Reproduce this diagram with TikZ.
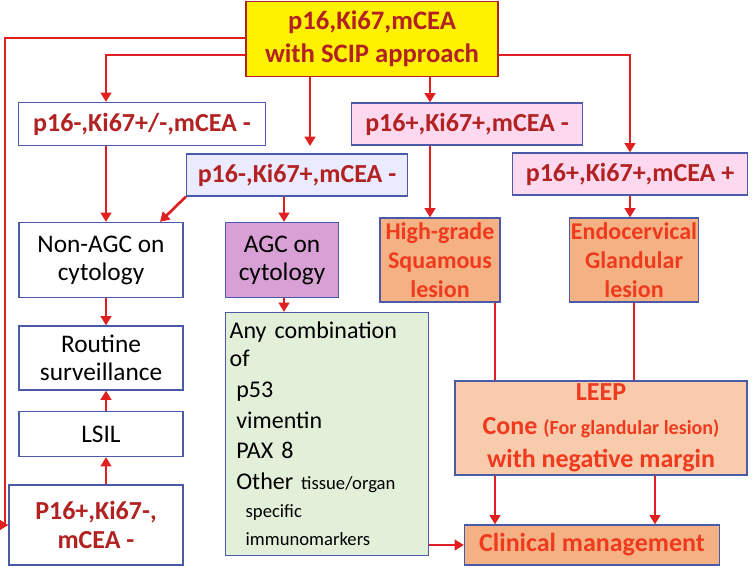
\documentclass[tikz,border=0pt]{standalone}
\usepackage{fontspec}
\setmainfont{Carlito}
\usetikzlibrary{arrows.meta,positioning}
\definecolor{dred}{HTML}{B22222}
\definecolor{ared}{HTML}{E02020}
\definecolor{bord}{HTML}{4A5AA8}
\definecolor{ored}{HTML}{F03A1E}
\definecolor{agcfill}{HTML}{D8A0D4}
\definecolor{lesfill}{HTML}{F4B183}
\definecolor{leepfill}{HTML}{F8CBAD}
\definecolor{greenfill}{HTML}{E2F0D9}
\begin{document}
\begin{tikzpicture}[x=0.75pt,y=-0.75pt,
    w/.style={minimum width=#1*0.75pt},
    h/.style={minimum height=#1*0.75pt},
    box/.style={rectangle, draw=bord, line width=0.9pt, fill=white, align=center, inner sep=1pt, font=\fontsize{19}{21}\selectfont},
    key/.style={box, text=dred, font=\fontsize{19.5}{22}\selectfont\bfseries},
    lesion/.style={box, fill=lesfill, text=ored, font=\fontsize{18}{22}\selectfont\bfseries},
    arrow/.style={draw=ared, line width=2pt, -{Triangle[length=7pt,width=8pt]}},
    line/.style={draw=ared, line width=2pt}
]
\useasboundingbox (0,0) rectangle (756,575);
% Nodes
\node[key, fill=yellow, draw=dred, w=252, h=75, font=\fontsize{20}{25}\selectfont\bfseries] (scip) at (372,39) {p16,Ki67,mCEA\\with SCIP approach};
\node[key, w=247, h=43] (neg) at (142,124) {p16-,Ki67+/-,mCEA -};
\node[key, fill=blue!8, w=221, h=42] (kpos) at (297,175) {p16-,Ki67+,mCEA -};
\node[key, fill=magenta!15, w=231, h=42] (ppos) at (467,124) {p16+,Ki67+,mCEA -};
\node[key, fill=magenta!15, w=235, h=42] (allpos) at (630,174) {p16+,Ki67+,mCEA +};
\node[box, w=164, h=75] (nonagc) at (101,260) {Non-AGC on\\cytology};
\node[box, fill=agcfill, w=113, h=75] (agc) at (282,260) {AGC on\\cytology};
\node[lesion, w=120, h=84] (hsil) at (440,260) {High-grade\\Squamous\\lesion};
\node[lesion, w=125, h=84] (glands) at (634,260) {Endocervical\\Glandular\\lesion};
\node[box, w=164, h=64] (routine) at (101,358) {Routine\\surveillance};
\node[box, w=164, h=45] (lsil) at (101,434) {LSIL};
\node[key, w=174, h=80] (pneg) at (96,525) {P16+,Ki67-,\\mCEA -};
\node[box, fill=greenfill, w=202, h=243, align=left, text width=146pt, inner sep=3pt, font=\fontsize{18}{21}\selectfont] (markers) at (327,434)
  {Any combination of\\[2pt] \hspace*{5pt}p53\\[2pt] \hspace*{5pt}vimentin\\[2pt] \hspace*{5pt}PAX 8\\[2pt] \hspace*{5pt}Other {\fontsize{14}{16}\selectfont tissue/organ}\\ \hspace*{12pt}{\fontsize{14}{16}\selectfont specific}\\ \hspace*{12pt}{\fontsize{14}{16}\selectfont immunomarkers}};
\node[lesion, fill=leepfill, w=292, h=94, font=\fontsize{19.5}{25}\selectfont\bfseries] (leep) at (601,428) {LEEP\\Cone {\fontsize{15}{17}\selectfont (For glandular lesion)}\\with negative margin};
\node[lesion, w=255, h=40, font=\fontsize{19.5}{22}\selectfont\bfseries] (clinic) at (592,545) {Clinical management};

% Lines
\draw[arrow] (scip.west |- 0,38) -| (5,525) -- (pneg.west);
\draw[arrow] (scip.west |- 0,55) -| (neg.north -| 106,0);
\draw[arrow] (scip.south -| 310,0) -- (310,146);
\draw[arrow] (scip.south -| 430,0) -- (ppos.north -| 430,0);
\draw[arrow] (scip.east |- 0,55) -| (allpos.north);
\draw[arrow] (neg.south -| 106,0) -- (nonagc.north -| 106,0);
\draw[arrow] (kpos.south west) -- (nonagc.north east -| 160,0);
\draw[arrow] (kpos.south -| 284,0) -- (agc.north -| 284,0);
\draw[arrow] (ppos.south -| 430,0) -- (hsil.north -| 430,0);
\draw[arrow] (allpos.south) -- (glands.north -| 630,0);
\draw[arrow] (nonagc.south -| 106,0) -- (routine.north -| 106,0);
\draw[arrow] (lsil.north -| 106,0) -- (routine.south -| 106,0);
\draw[arrow] (pneg.north -| 106,0) -- (lsil.south -| 106,0);
\draw[arrow] (agc.south -| 284,0) -- (markers.north -| 284,0);
\draw[line] (hsil.south -| 495,0) -- (leep.north -| 495,0);
\draw[line] (glands.south -| 634,0) -- (leep.north -| 634,0);
\draw[arrow] (leep.south -| 495,0) -- (clinic.north -| 495,0);
\draw[arrow] (leep.south -| 655,0) -- (clinic.north -| 655,0);
\draw[arrow] (markers.east |- clinic.west) -- (clinic.west);
\end{tikzpicture}
\end{document}
